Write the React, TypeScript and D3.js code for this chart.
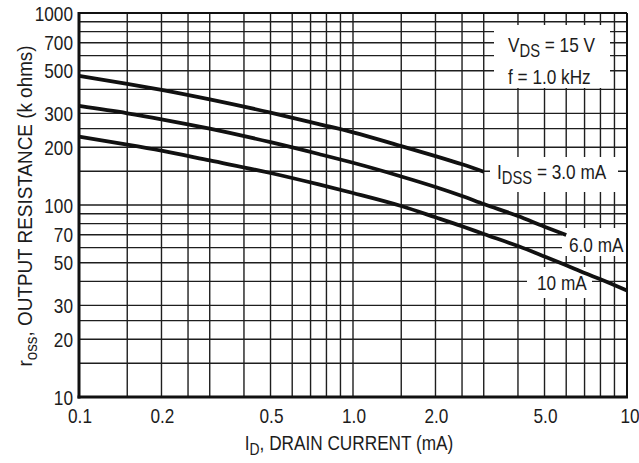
import React from "react";
import * as d3 from "d3";

const W = 639;
const H = 463;

const xTickValues = [0.1, 0.2, 0.5, 1, 2, 5, 10];
const xTickLabels = ["0.1", "0.2", "0.5", "1.0", "2.0", "5.0", "10"];
const yTickValues = [10, 20, 30, 50, 70, 100, 200, 300, 500, 700, 1000];
const yTickLabels = ["10", "20", "30", "50", "70", "100", "200", "300", "500", "700", "1000"];
const xGrid = [0.1, 0.15, 0.2, 0.25, 0.3, 0.4, 0.5, 0.6, 0.7, 0.8, 0.9, 1, 1.5, 2, 2.5, 3, 4, 5, 6, 7, 8, 9, 10];
const yGrid = [10, 15, 20, 25, 30, 40, 50, 60, 70, 80, 90, 100, 150, 200, 250, 300, 400, 500, 600, 700, 800, 900, 1000];

const idss3X = [0.1, 0.15, 0.2, 0.3, 0.5, 0.75, 1, 1.5, 2, 2.5, 3];
const idss3R = [470, 428, 398, 355, 303, 264, 239, 202.7, 179.6, 162.9, 149];
const idss6X = [0.1, 0.15, 0.2, 0.3, 0.5, 0.75, 1, 1.5, 2, 2.5, 3, 4, 5, 6];
const idss6R = [328, 300.4, 279.5, 249.7, 212.4, 184.3, 165.9, 140.8, 124.1, 111.4, 101.2, 87.6, 77.1, 69.8];
const idss10X = [0.1, 0.15, 0.2, 0.3, 0.5, 0.75, 1, 1.5, 2, 2.5, 3, 4, 5, 6, 7, 8, 10];
const idss10R = [227, 206.5, 192, 170.6, 146.8, 128, 115.5, 98.8, 86.3, 77.5, 70.6, 61.1, 53.9, 48.5, 44.2, 41, 35.8];

const FONT = "'Liberation Sans', Arial, sans-serif";
const SX = 0.82;

type TProps = {
  x: number;
  y: number;
  anchor?: "start" | "middle" | "end";
  rotate?: number;
  sx?: number;
  children: React.ReactNode;
};

function T({ x, y, anchor = "start", rotate = 0, sx = SX, children }: TProps) {
  const tr = `translate(${x},${y})` + (rotate ? ` rotate(${rotate})` : "") + ` scale(${sx},1)`;
  return (
    <text transform={tr} textAnchor={anchor}>
      {children}
    </text>
  );
}

export default function App() {
  const x = d3.scaleLog().domain([0.1, 10]).range([79, 627]);
  const y = d3.scaleLog().domain([10, 1000]).range([397, 13]);
  const line = d3
    .line<[number, number]>()
    .x((d) => x(d[0]))
    .y((d) => y(d[1]))
    .curve(d3.curveMonotoneX);
  const series = [
    { xs: idss3X, rs: idss3R },
    { xs: idss6X, rs: idss6R },
    { xs: idss10X, rs: idss10R },
  ];
  const gridColor = "#1e1e1e";
  return (
    <svg
      width={W}
      height={H}
      style={{ position: "absolute", left: 0, top: 0, background: "#fff" }}
      fontFamily={FONT}
    >
      <rect x={0} y={0} width={W} height={H} fill="#fff" />
      <g>
        {xGrid.map((v) => (
          <line key={"gx" + v} x1={x(v)} x2={x(v)} y1={y(1000)} y2={y(10)} stroke={gridColor} strokeWidth={1.4} />
        ))}
        {yGrid.map((v) => (
          <line key={"gy" + v} x1={x(0.1)} x2={x(10)} y1={y(v)} y2={y(v)} stroke={gridColor} strokeWidth={1.4} />
        ))}
      </g>
      <line x1={x(0.1)} x2={x(10)} y1={y(1000)} y2={y(1000)} stroke="#111" strokeWidth={2} />
      <line x1={x(10)} x2={x(10)} y1={y(1000)} y2={y(10)} stroke="#111" strokeWidth={2} />
      <line x1={x(0.1)} x2={x(0.1)} y1={y(1000) - 1} y2={y(10) + 1.5} stroke="#111" strokeWidth={3} />
      <line x1={x(0.1) - 1.5} x2={x(10) + 1} y1={y(10)} y2={y(10)} stroke="#111" strokeWidth={3} />

      <rect x={494} y={25} width={116} height={63} fill="#fff" />
      <rect x={490} y={157} width={128} height={35} fill="#fff" />
      <rect x={562} y={228} width={64} height={28} fill="#fff" />
      <rect x={527} y={267} width={65} height={31} fill="#fff" />

      {series.map((s, i) => (
        <path
          key={"s" + i}
          d={line(s.xs.map((v, j) => [v, s.rs[j]] as [number, number])) || ""}
          fill="none"
          stroke="#111"
          strokeWidth={3.8}
        />
      ))}

      <g fontSize={21} fill="#1c1c1c">
        {yTickValues.map((v, i) => (
          <T key={"yl" + v} x={73} y={y(v) + 7.5} anchor="end">
            {yTickLabels[i]}
          </T>
        ))}
        {xTickValues.map((v, i) => (
          <T key={"xl" + v} x={x(v) + (v === 10 ? 3 : 1)} y={423} anchor="middle">
            {xTickLabels[i]}
          </T>
        ))}
        <T x={349} y={450} anchor="middle">
          <tspan>I</tspan>
          <tspan fontSize={17} dy={5}>D</tspan>
          <tspan dy={-5}>, DRAIN CURRENT (mA)</tspan>
        </T>
        <T x={32} y={206} anchor="middle" rotate={-90} sx={0.9}>
          <tspan>r</tspan>
          <tspan fontSize={17} dy={5}>oss</tspan>
          <tspan dy={-5}>, OUTPUT RESISTANCE (k ohms)</tspan>
        </T>
        <T x={508} y={52}>
          <tspan>V</tspan>
          <tspan fontSize={18} dy={5}>DS</tspan>
          <tspan dy={-5}> = 15 V</tspan>
        </T>
        <T x={508} y={84}>f = 1.0 kHz</T>
        <T x={497} y={179}>
          <tspan>I</tspan>
          <tspan fontSize={18} dy={5}>DSS</tspan>
          <tspan dy={-5}> = 3.0 mA</tspan>
        </T>
        <T x={569} y={252}>6.0 mA</T>
        <T x={537} y={290}>10 mA</T>
      </g>
    </svg>
  );
}
